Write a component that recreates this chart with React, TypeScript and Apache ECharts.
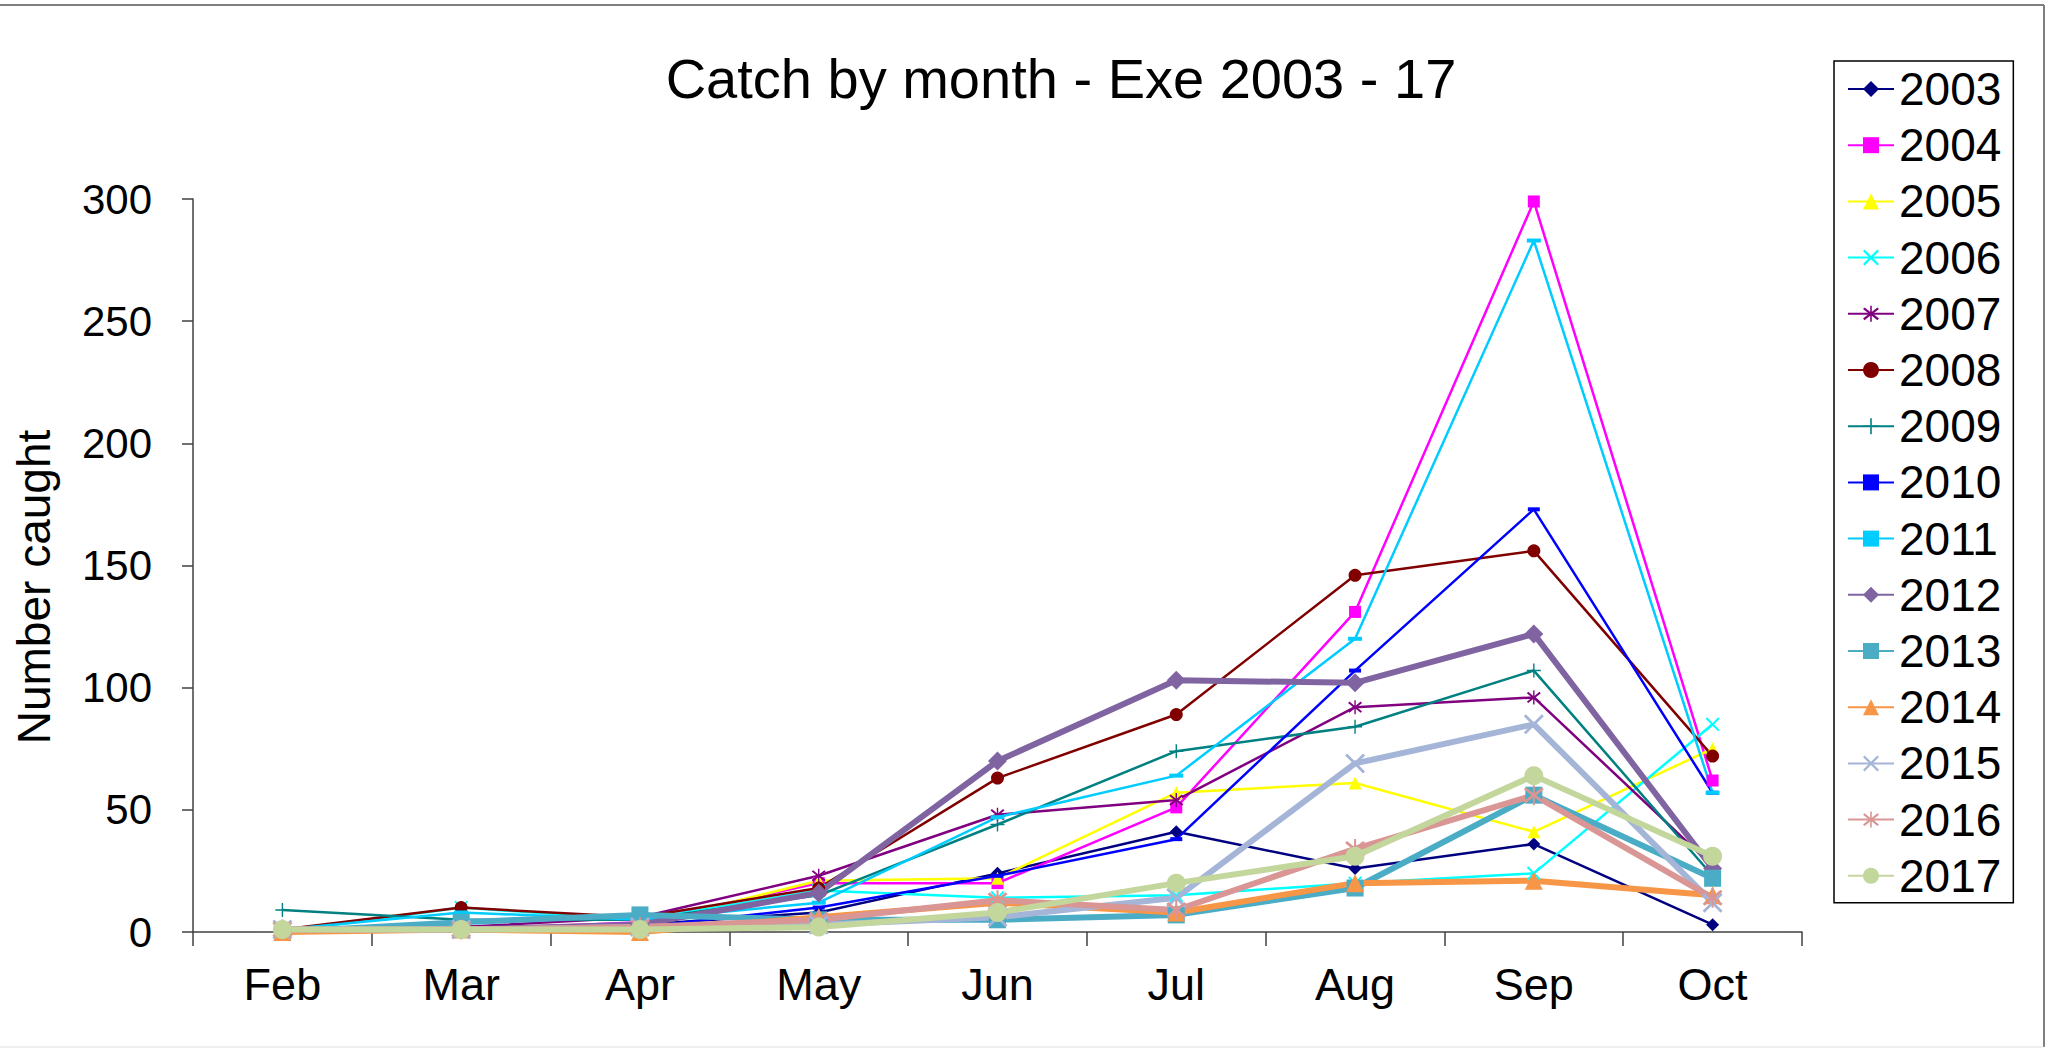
import React, { useEffect, useRef } from "react";
import * as echarts from "echarts";

const months = ["Feb", "Mar", "Apr", "May", "Jun", "Jul", "Aug", "Sep", "Oct"];
const years = ["2003", "2004", "2005", "2006", "2007", "2008", "2009", "2010", "2011", "2012", "2013", "2014", "2015", "2016", "2017"];
const yTicks = { min: 0, max: 300, step: 50 };

const y2003 = [1, 1, 3, 8, 24, 41, 26, 36, 3];
const y2004 = [1, 1, 4, 20, 20, 51, 131, 299, 62];
const y2005 = [0, 2, 3, 21, 22, 57, 61, 41, 75];
const y2006 = [0, 10, 5, 17, 14, 15, 20, 24, 85];
const y2007 = [1, 2, 6, 23, 48, 54, 92, 96, 27];
const y2008 = [1, 10, 6, 18, 63, 89, 146, 156, 72];
const y2009 = [9, 5, 5, 15, 44, 74, 84, 107, 23];
const y2010 = [0, 1, 2, 10, 23, 38, 107, 173, 57];
const y2011 = [1, 8, 5, 12, 47, 64, 120, 283, 57];
const y2012 = [1, 1, 3, 16, 70, 103, 102, 122, 26];
const y2013 = [0, 4, 7, 5, 5, 7, 18, 56, 22];
const y2014 = [0, 1, 0, 6, 12, 8, 20, 21, 15];
const y2015 = [1, 1, 2, 3, 6, 14, 69, 85, 12];
const y2016 = [1, 1, 2, 5, 13, 9, 34, 56, 14];
const y2017 = [1, 1, 1, 2, 8, 20, 31, 64, 31];

const seriesValues = [y2003, y2004, y2005, y2006, y2007, y2008, y2009, y2010, y2011, y2012, y2013, y2014, y2015, y2016, y2017];

const X_PATH = "path://M0,2L2,0L10,8L18,0L20,2L12,10L20,18L18,20L10,12L2,20L0,18L8,10Z";
const STAR_PATH = "path://M0,4L2,2L10,8.5L18,2L20,4L12.5,10L20,16L18,18L10,11.5L2,18L0,16L7.5,10ZM9,0L11,0L11,20L9,20Z";
const PLUS_PATH = "path://M9,0L11,0L11,9L20,9L20,11L11,11L11,20L9,20L9,11L0,11L0,9L9,9Z";

const styles = [
  { color: "#000080", symbol: "diamond", size: 13, width: 2.5 },
  { color: "#FF00FF", symbol: "rect", size: 12, width: 2.5 },
  { color: "#FFFF00", symbol: "triangle", size: 13, width: 2.5 },
  { color: "#00FFFF", symbol: X_PATH, size: 14, width: 2.5 },
  { color: "#800080", symbol: STAR_PATH, size: 14, width: 2.5 },
  { color: "#800000", symbol: "circle", size: 13, width: 2.5 },
  { color: "#008080", symbol: PLUS_PATH, size: 14, width: 2.5 },
  { color: "#0000FF", symbol: "rect", size: [12, 4], width: 2.5 },
  { color: "#00CCFF", symbol: "rect", size: [14, 4], width: 2.5 },
  { color: "#8064A2", symbol: "diamond", size: 19, width: 6 },
  { color: "#4BACC6", symbol: "rect", size: 17, width: 6 },
  { color: "#F79646", symbol: "triangle", size: 18, width: 6 },
  { color: "#A5B5D8", symbol: X_PATH, size: 20, width: 6 },
  { color: "#D99694", symbol: STAR_PATH, size: 20, width: 6 },
  { color: "#C3D69B", symbol: "circle", size: 19, width: 6 },
];

const FONT = "'Liberation Sans', Arial, sans-serif";

export default function App() {
  const ref = useRef<HTMLDivElement>(null);
  useEffect(() => {
    document.body.style.margin = "0";
    const chart = echarts.init(ref.current!, null, { renderer: "svg" });
    const series = years.map((y, i) => ({
      name: y,
      type: "line",
      data: seriesValues[i],
      symbol: styles[i].symbol,
      symbolSize: styles[i].size,
      showAllSymbol: true,
      lineStyle: { color: styles[i].color, width: styles[i].width },
      itemStyle: { color: styles[i].color, opacity: 1 },
      emphasis: { disabled: true },
    }));
    chart.setOption({
      animation: false,
      backgroundColor: "#ffffff",
      textStyle: { fontFamily: FONT },
      title: {
        text: "Catch by month - Exe 2003 - 17",
        left: 1056,
        top: 45,
        textAlign: "center",
        textStyle: { fontFamily: FONT, fontSize: 56, fontWeight: "normal", color: "#000" },
      },
      legend: {
        orient: "vertical",
        left: 1834,
        top: 61,
        padding: [5, 12, 4, 13],
        itemWidth: 46,
        itemHeight: 20,
        itemGap: 10.2,
        borderColor: "#000",
        borderWidth: 1.5,
        selectedMode: false,
        data: years,
        textStyle: { fontFamily: FONT, fontSize: 46, color: "#000", lineHeight: 46 },
      },
      grid: { left: 193, right: 249, top: 199, bottom: 117, containLabel: false },
      xAxis: {
        type: "category",
        data: months,
        boundaryGap: true,
        axisLine: { lineStyle: { color: "#404040", width: 1.5 } },
        axisTick: { show: true, length: 14, inside: false, alignWithLabel: false, lineStyle: { color: "#404040", width: 1.5 } },
        axisLabel: { fontFamily: FONT, fontSize: 45, color: "#000", margin: 30 },
        splitLine: { show: false },
      },
      yAxis: {
        type: "value",
        min: yTicks.min,
        max: yTicks.max,
        interval: yTicks.step,
        axisLine: { show: true, lineStyle: { color: "#404040", width: 1.5 } },
        axisTick: { show: true, length: 11, lineStyle: { color: "#404040", width: 1.5 } },
        axisLabel: { fontFamily: FONT, fontSize: 42, color: "#000", margin: 41 },
        splitLine: { show: false },
      },
      graphic: [
        { type: "line", shape: { x1: 0, y1: 5, x2: 2044, y2: 5 }, style: { stroke: "#7f7f7f", lineWidth: 2 } },
        { type: "line", shape: { x1: 2044, y1: 5, x2: 2044, y2: 1047 }, style: { stroke: "#7f7f7f", lineWidth: 2 } },
        { type: "line", shape: { x1: 0, y1: 1047, x2: 2044, y2: 1047 }, style: { stroke: "#e0e0e0", lineWidth: 1 } },
        {
          type: "text",
          x: 34,
          y: 587,
          rotation: Math.PI / 2,
          style: {
            text: "Number caught",
            fontFamily: FONT,
            fontSize: 46,
            fill: "#000",
            textAlign: "center",
            textVerticalAlign: "middle",
          },
        },
      ],
      series,
    });
    return () => chart.dispose();
  }, []);
  return <div ref={ref} style={{ width: 2051, height: 1049 }} />;
}
